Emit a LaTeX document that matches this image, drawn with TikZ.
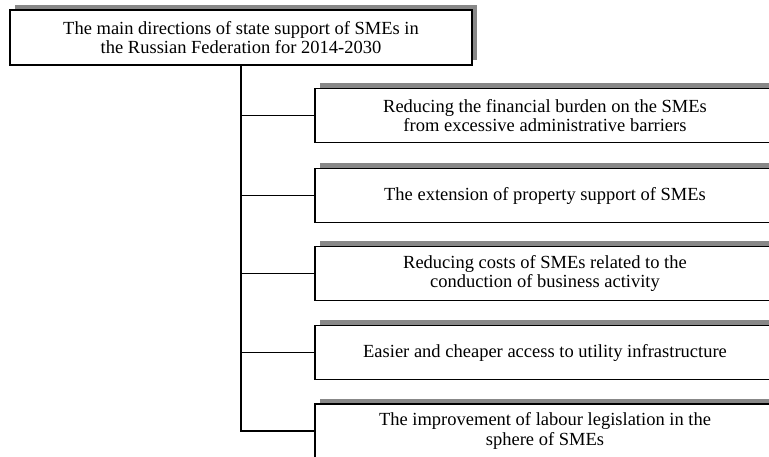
\documentclass[tikz,border=0pt]{standalone}
\usepackage{fontspec}
\setmainfont{Liberation Serif}
\usetikzlibrary{shadows}
\begin{document}
\begin{tikzpicture}[x=1pt,y=-1pt,
  box/.style={draw=black,line width=1.8pt,fill=white,align=center,inner sep=0pt,
    minimum height=54pt,font=\fontsize{18.5}{19.5}\selectfont,
    general shadow={fill=shadowgray,shadow xshift=5pt,shadow yshift=5pt}},
  conn/.style={draw=black,line width=1.8pt}]
\definecolor{shadowgray}{HTML}{888888}
\useasboundingbox (0,0) rectangle (769,457);
\clip (0,0) rectangle (769,457);
\node[box,minimum width=462pt,minimum height=55pt] (top) at (241,37.5)
  {The main directions of state support of SMEs in\\the Russian Federation for 2014-2030};
\node[box,minimum width=460pt] (b1) at (545,115.5)
  {Reducing the financial burden on the SMEs\\from excessive administrative barriers};
\node[box,minimum width=460pt] (b2) at (545,195.5)
  {The extension of property support of SMEs};
\node[box,minimum width=460pt] (b3) at (545,273.5)
  {Reducing costs of SMEs related to the\\conduction of business activity};
\node[box,minimum width=460pt] (b4) at (545,352.5)
  {Easier and cheaper access to utility infrastructure};
\node[box,minimum width=460pt] (b5) at (545,431)
  {The improvement of labour legislation in the\\sphere of SMEs};
\foreach \b in {b1,b2,b3,b4,b5}
  \draw[conn] (top.south) |- (\b.west);
\end{tikzpicture}
\end{document}
